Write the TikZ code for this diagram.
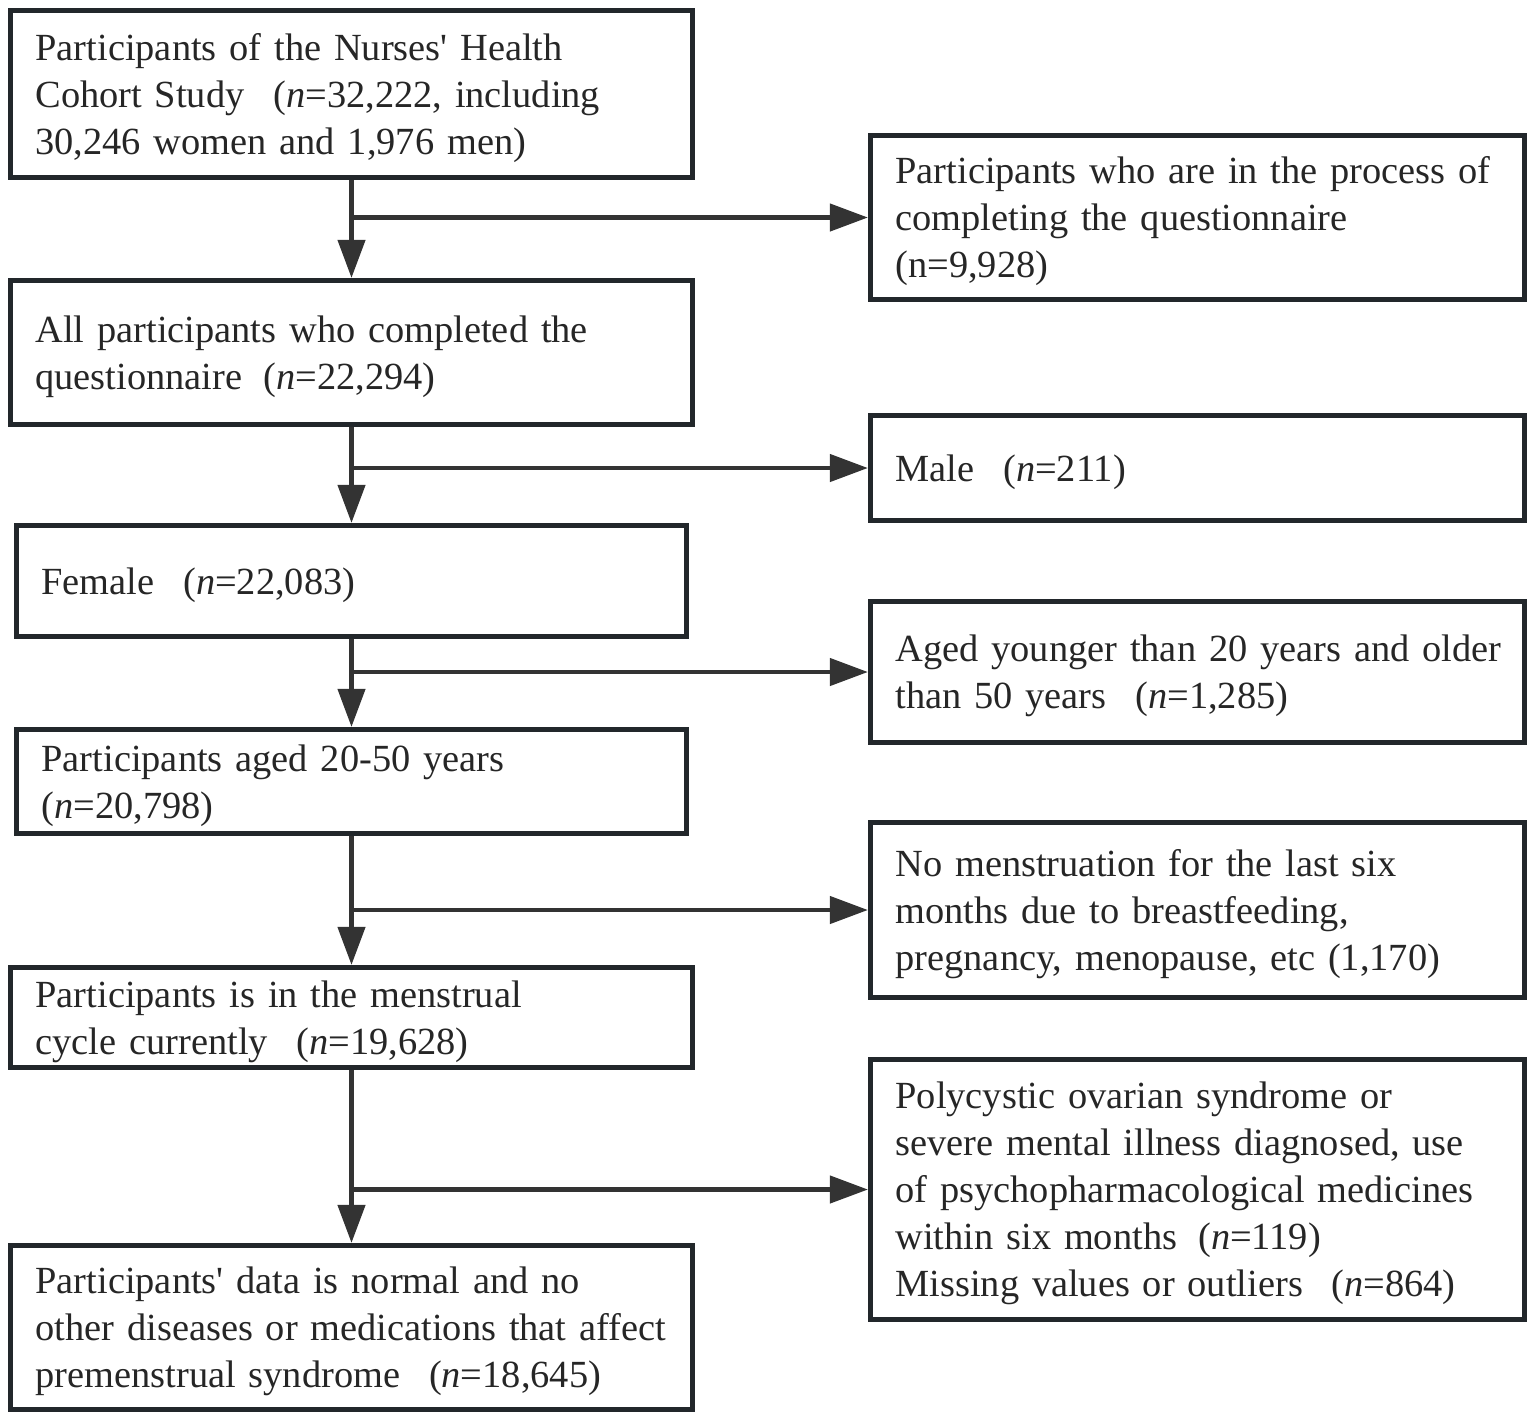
\documentclass[tikz,border=0pt]{standalone}
\usepackage{fontspec}
\setmainfont{Liberation Serif}
\usetikzlibrary{arrows.meta}
\definecolor{boxc}{HTML}{22272B}
\definecolor{arrc}{HTML}{333333}
\definecolor{txtc}{HTML}{262626}
\newcommand{\gp}{\hspace{0.75em}}
\newcommand{\gs}{\hspace{0.55em}}
\newcommand{\nn}{\textit{n}}
\newcommand{\tp}{\rule{0pt}{17.3pt}}
\begin{document}
\begin{tikzpicture}[x=0.5pt,y=-0.5pt,
  box/.style={draw=boxc, line width=2.6pt, text=txtc,
    font=\fontsize{19.2pt}{23.5pt}\selectfont, align=left,
    inner xsep=12.5pt, inner ysep=0pt, anchor=center,
    execute at begin node=\tp},
  wide/.style={box, minimum width=341pt, text width=316pt},
  mid/.style={box, minimum width=335pt, text width=310pt},
  rbox/.style={box, minimum width=327pt, text width=302pt},
  arr/.style={draw=arrc, line width=2.2pt, -{Triangle[width=13.5pt,length=19pt]}}]
\useasboundingbox (0,0) rectangle (1535,1420);
% left column
\node[wide, minimum height=83.5pt] (b1) at (351.5,94)
  {\mbox{Participants of the Nurses\textquotesingle{} Health}\\
   \mbox{Cohort Study\gp(\nn=32,222, including}\\
   \mbox{30,246 women and 1,976 men)}};
\node[wide, minimum height=72pt] (b2) at (351.5,352.5)
  {\mbox{All participants who completed the}\\
   \mbox{questionnaire\gs(\nn=22,294)}};
\node[mid, minimum height=55.5pt] (b3) at (351.5,581)
  {\mbox{Female\gp(\nn=22,083)}};
\node[mid, minimum height=52pt] (b4) at (351.5,781.5)
  {\mbox{Participants aged 20-50 years}\\
   \mbox{(\nn=20,798)}};
\node[wide, minimum height=50pt] (b5) at (351.5,1017.5)
  {\mbox{Participants is in the menstrual}\\
   \mbox{cycle currently\gp(\nn=19,628)}};
\node[wide, minimum height=82pt] (b6) at (351.5,1327.5)
  {\mbox{Participants\textquotesingle{} data is normal and no}\\
   \mbox{other diseases or medications that affect}\\
   \mbox{premenstrual syndrome\gp(\nn=18,645)}};
% right column
\node[rbox, minimum height=82pt] (r1) at (1197.5,217.5)
  {\mbox{Participants who are in the process of}\\
   \mbox{completing the questionnaire}\\
   \mbox{(n=9,928)}};
\node[rbox, minimum height=52.5pt] (r2) at (1197.5,468)
  {\mbox{Male\gp(\nn=211)}};
\node[rbox, minimum height=70.5pt] (r3) at (1197.5,672)
  {\mbox{Aged younger than 20 years and older}\\
   \mbox{than 50 years\gp(\nn=1,285)}};
\node[rbox, minimum height=87.5pt] (r4) at (1197.5,910)
  {\mbox{No menstruation for the last six}\\
   \mbox{months due to breastfeeding,}\\
   \mbox{pregnancy, menopause, etc (1,170)}};
\node[rbox, minimum height=130pt] (r5) at (1197.5,1189.5)
  {\mbox{Polycystic ovarian syndrome or}\\
   \mbox{severe mental illness diagnosed, use}\\
   \mbox{of psychopharmacological medicines}\\
   \mbox{within six months\gs(\nn=119)}\\
   \mbox{Missing values or outliers\gp(\nn=864)}};
% vertical arrows
\draw[arr] (b1.south) -- (b2.north);
\draw[arr] (b2.south) -- (b3.north);
\draw[arr] (b3.south) -- (b4.north);
\draw[arr] (b4.south) -- (b5.north);
\draw[arr] (b5.south) -- (b6.north);
% branches
\draw[arr] (b1.south |- r1.west) -- (r1.west);
\draw[arr] (b2.south |- r2.west) -- (r2.west);
\draw[arr] (b3.south |- r3.west) -- (r3.west);
\draw[arr] (b4.south |- r4.west) -- (r4.west);
\draw[arr] (b5.south |- r5.west) -- (r5.west);
\end{tikzpicture}
\end{document}
